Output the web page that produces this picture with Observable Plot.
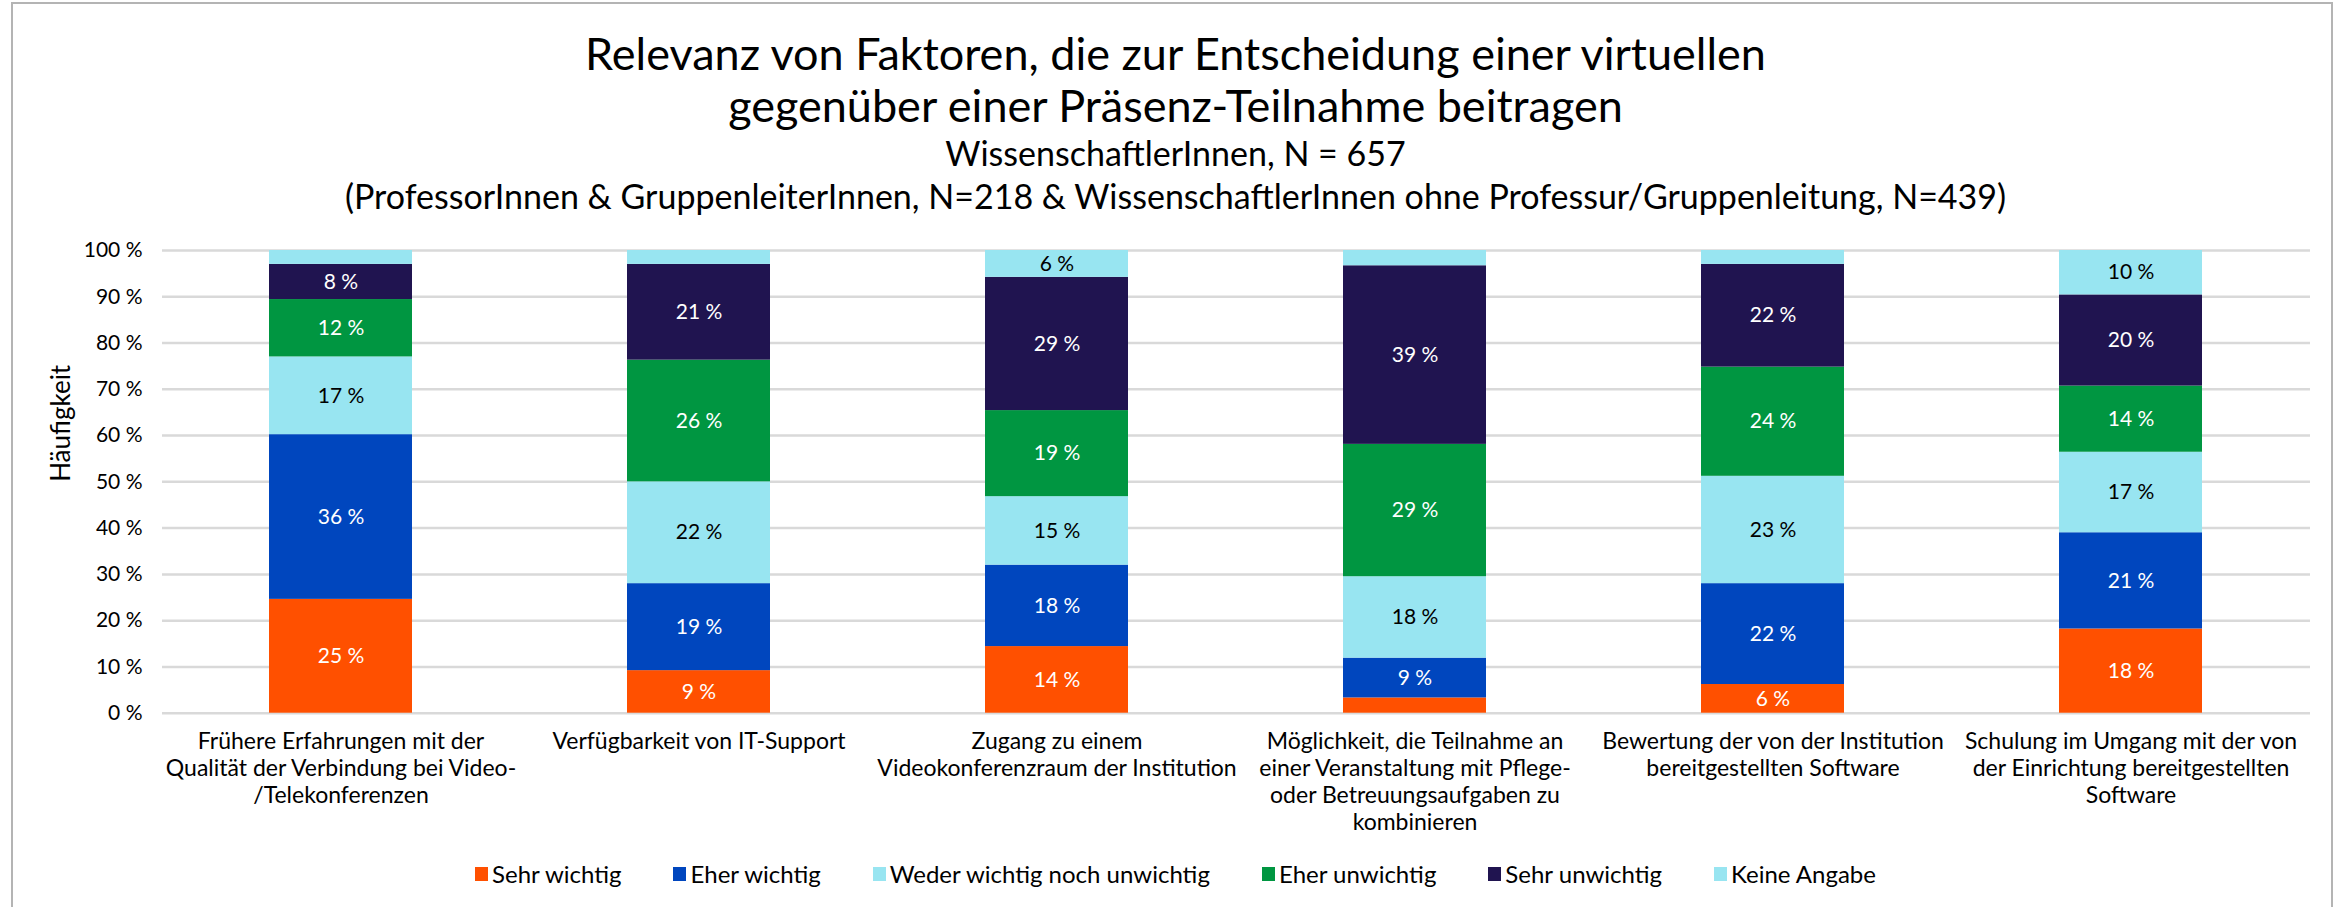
<!DOCTYPE html>
<html>
<head>
<meta charset="utf-8">
<script src="https://cdn.jsdelivr.net/npm/d3@7"></script>
<script src="https://cdn.jsdelivr.net/npm/@observablehq/plot@0.6"></script>
<style>
  html, body { margin: 0; padding: 0; background: #fff; }
  body { font-family: Lato, "Open Sans", sans-serif; color: #000; }
  #wrap { position: relative; width: 2351px; height: 907px; overflow: hidden; }
  #frame { position: absolute; left: 11px; top: 2px; width: 2322px; height: 1000px; border: 2px solid #b4b4b4; box-sizing: border-box; }
  #header { position: relative; height: 230px; box-sizing: border-box; padding-top: 27px; text-align: center; }
  .t1 { font-size: 45px; line-height: 52px; }
  .t2 { font-size: 34px; line-height: 43px; }
  #chart { position: relative; height: 610px; }
  #legend { position: relative; margin-top: 19px; height: 30px; display: flex; justify-content: center; align-items: center; gap: 0 52px; font-size: 24px; line-height: 30px; }
  .item { display: flex; align-items: center; white-space: nowrap; }
  .sw { width: 13px; height: 14px; margin-right: 4px; }
</style>
</head>
<body>
<div id="wrap">
  <div id="frame"></div>
  <div id="header"></div>
  <div id="chart"></div>
  <div id="legend"></div>
</div>
<script>
// ---- data ----
const titleLines = [
  "Relevanz von Faktoren, die zur Entscheidung einer virtuellen",
  "gegenüber einer Präsenz-Teilnahme beitragen"
];
const subtitleLines = [
  "WissenschaftlerInnen, N = 657",
  "(ProfessorInnen & GruppenleiterInnen, N=218 & WissenschaftlerInnen ohne Professur/Gruppenleitung, N=439)"
];
const yLabel = "Häufigkeit";

const categories = [
  "Frühere Erfahrungen mit der Qualität der Verbindung bei Video-/Telekonferenzen",
  "Verfügbarkeit von IT-Support",
  "Zugang zu einem Videokonferenzraum der Institution",
  "Möglichkeit, die Teilnahme an einer Veranstaltung mit Pflege- oder Betreuungsaufgaben zu kombinieren",
  "Bewertung der von der Institution bereitgestellten Software",
  "Schulung im Umgang mit der von der Einrichtung bereitgestellten Software"
];
const categoryTickLabels = [
  "Frühere Erfahrungen mit der\nQualität der Verbindung bei Video-\n/Telekonferenzen",
  "Verfügbarkeit von IT-Support",
  "Zugang zu einem\nVideokonferenzraum der Institution",
  "Möglichkeit, die Teilnahme an\neiner Veranstaltung mit Pflege-\noder Betreuungsaufgaben zu\nkombinieren",
  "Bewertung der von der Institution\nbereitgestellten Software",
  "Schulung im Umgang mit der von\nder Einrichtung bereitgestellten\nSoftware"
];

const series = ["Sehr wichtig", "Eher wichtig", "Weder wichtig noch unwichtig", "Eher unwichtig", "Sehr unwichtig", "Keine Angabe"];
const seriesColors = ["#FF5000", "#0046BE", "#98E5F1", "#009641", "#201450", "#98E5F1"];
const darkLabelSeries = ["Weder wichtig noch unwichtig", "Keine Angabe"];

const sehrWichtig   = [24.6,  9.2, 14.4,  3.3,  6.2, 18.2];
const eherWichtig   = [35.6, 18.8, 17.6,  8.6, 21.8, 20.8];
const weder         = [16.8, 22.0, 14.8, 17.6, 23.2, 17.4];
const eherUnwichtig = [12.4, 26.3, 18.6, 28.6, 23.6, 14.3];
const sehrUnwichtig = [ 7.6, 20.7, 28.8, 38.6, 22.2, 19.7];
const keineAngabe   = [ 3.0,  3.0,  5.8,  3.3,  3.0,  9.6];

const yTicks = [0, 10, 20, 30, 40, 50, 60, 70, 80, 90, 100];

// ---- build table ----
const seriesValues = [sehrWichtig, eherWichtig, weder, eherUnwichtig, sehrUnwichtig, keineAngabe];
const data = [];
categories.forEach((c, i) => {
  series.forEach((s, j) => data.push({category: c, series: s, value: seriesValues[j][i]}));
});
const tickLabelOf = new Map(categories.map((c, i) => [c, categoryTickLabels[i]]));
const fmt = d => d.value >= 5 ? `${Math.round(d.value)} %` : "";

// ---- header ----
const header = document.getElementById("header");
titleLines.forEach(t => { const d = document.createElement("div"); d.className = "t1"; d.textContent = t; header.appendChild(d); });
subtitleLines.forEach(t => { const d = document.createElement("div"); d.className = "t2"; d.textContent = t; header.appendChild(d); });

// ---- chart ----
const chart = Plot.plot({
  width: 2351,
  height: 610,
  marginTop: 20,
  marginBottom: 127.3,
  marginLeft: 162,
  marginRight: 41,
  style: {fontFamily: "Lato, 'Open Sans', sans-serif", fontSize: "21px", color: "#000", background: "transparent", overflow: "visible"},
  x: {domain: categories, paddingInner: 0.6, paddingOuter: 0.3, label: null},
  y: {domain: [0, 100], label: null},
  color: {domain: series, range: seriesColors},
  marks: [
    Plot.ruleY(yTicks, {stroke: "#d9d9d9", strokeWidth: 2.5}),
    Plot.barY(data, {x: "category", y: "value", fill: "series", z: "series"}),
    Plot.text(data, Plot.stackY({x: "category", y: "value", z: "series",
      text: d => darkLabelSeries.includes(d.series) ? "" : fmt(d), fill: "#fff", fontSize: 21})),
    Plot.text(data, Plot.stackY({x: "category", y: "value", z: "series",
      text: d => darkLabelSeries.includes(d.series) ? fmt(d) : "", fill: "#000", fontSize: 21})),
    Plot.axisY({ticks: yTicks, tickFormat: d => `${d} %`, tickSize: 0, tickPadding: 20, fontSize: 21, label: null}),
    Plot.text([yLabel], {frameAnchor: "left", rotate: -90, dx: -101, fontSize: 26, fill: "#000"}),
    Plot.axisX({tickSize: 0, tickPadding: 17, fontSize: 23, lineHeight: 1.17,
      tickFormat: d => tickLabelOf.get(d), label: null})
  ]
});
document.getElementById("chart").appendChild(chart);

// ---- legend ----
const legend = document.getElementById("legend");
series.forEach((s, i) => {
  const item = document.createElement("div"); item.className = "item";
  const sw = document.createElement("span"); sw.className = "sw"; sw.style.background = seriesColors[i];
  const lb = document.createElement("span"); lb.textContent = s;
  item.appendChild(sw); item.appendChild(lb); legend.appendChild(item);
});
</script>
</body>
</html>
